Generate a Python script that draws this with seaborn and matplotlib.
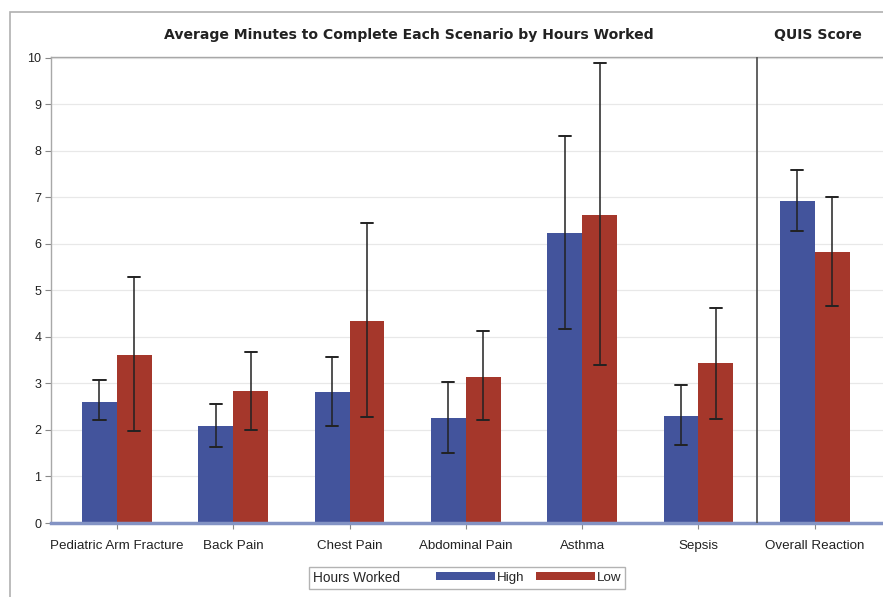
import numpy as np
import pandas as pd
import matplotlib
matplotlib.use("Agg")
import matplotlib.pyplot as plt
import seaborn as sns
from matplotlib.patches import Patch, Rectangle
from matplotlib.offsetbox import HPacker

categories = ["Pediatric Arm Fracture", "Back Pain", "Chest Pain", "Abdominal Pain",
              "Asthma", "Sepsis", "Overall Reaction"]
groups = ["High", "Low"]
high_mean = [2.61, 2.08, 2.82, 2.26, 6.23, 2.31, 6.93]
high_lo = [2.22, 1.63, 2.08, 1.50, 4.17, 1.68, 6.28]
high_hi = [3.07, 2.55, 3.57, 3.03, 8.33, 2.97, 7.59]
low_mean = [3.62, 2.83, 4.35, 3.15, 6.63, 3.43, 5.82]
low_lo = [1.97, 2.01, 2.27, 2.21, 3.39, 2.24, 4.67]
low_hi = [5.30, 3.68, 6.45, 4.12, 9.90, 4.63, 7.00]
title_left = "Average Minutes to Complete Each Scenario by Hours Worked"
title_right = "QUIS Score"
legend_title = "Hours Worked"

colors = {"High": "#43549C", "Low": "#A5372B"}

df = pd.DataFrame({
    "Scenario": categories * 2,
    "Hours": ["High"] * len(categories) + ["Low"] * len(categories),
    "Minutes": high_mean + low_mean,
})

sns.set_style("white")
plt.rcParams["font.family"] = ["Liberation Sans", "DejaVu Sans"]

fig = plt.figure(figsize=(8.83, 5.97), dpi=100)
ax = fig.add_axes([51 / 883, 1 - 523 / 597, 832 / 883, (523 - 57) / 597])

sns.barplot(data=df, x="Scenario", y="Minutes", hue="Hours", order=categories,
            hue_order=groups, palette=colors, width=0.6, errorbar=None,
            saturation=1, linewidth=0, ax=ax, legend=False, zorder=2)

los = {"High": high_lo, "Low": low_lo}
his = {"High": high_hi, "Low": low_hi}
for cont, g in zip(ax.containers, groups):
    for i, bar in enumerate(cont):
        xc = bar.get_x() + bar.get_width() / 2
        lo, hi = los[g][i], his[g][i]
        ax.plot([xc, xc], [lo, hi], color="#222222", lw=1.1, zorder=4)
        for yv in (lo, hi):
            ax.plot([xc - 0.052, xc + 0.052], [yv, yv], color="#222222", lw=1.4, zorder=4)

ax.set_xlim(-0.567, 6.587)
ax.set_ylim(0, 10.02)
ax.set_yticks(range(0, 11))
ax.set_xlabel("")
ax.set_ylabel("")
ax.grid(axis="y", color="#E8E8E8", lw=0.9, zorder=0)
ax.set_axisbelow(True)
for s in ["top", "left"]:
    ax.spines[s].set_color("#A8A8A8")
    ax.spines[s].set_linewidth(1.0)
ax.spines["right"].set_visible(False)
ax.spines["bottom"].set_color("#8393C4")
ax.spines["bottom"].set_linewidth(2.5)
ax.tick_params(axis="y", length=4, width=0.8, color="#888888", labelsize=9, pad=3,
               labelcolor="#222222", left=True)
ax.tick_params(axis="x", length=4, width=0.8, color="#888888", labelsize=9.6, pad=14.5,
               labelcolor="#222222", bottom=True)
for lab in ax.get_xticklabels():
    lab.set_verticalalignment("baseline")
ax.axvline(5.5, color="#555555", lw=1.3, zorder=3)

fig.text(409 / 883, 1 - 35 / 597, title_left, ha="center", va="center",
         fontsize=10.1, fontweight="bold", color="#222222", family="DejaVu Sans")
fig.text(818 / 883, 1 - 35 / 597, title_right, ha="center", va="center",
         fontsize=10.1, fontweight="bold", color="#222222", family="DejaVu Sans")

# outer frame
fig.patches.append(Rectangle((10 / 883, -0.05), 1.1, 1 - 12 / 597 + 0.05,
                             transform=fig.transFigure, fill=False,
                             edgecolor="#B0B0B0", lw=1.2))

handles = [Patch(facecolor=colors[g], edgecolor="none", label=g) for g in groups]
leg = fig.legend(handles=handles, title=legend_title, ncol=2, loc="center",
                 bbox_to_anchor=(467 / 883, 1 - 578 / 597), frameon=True,
                 fontsize=9.6, title_fontsize=9.8, handlelength=4.4, handleheight=0.55,
                 handletextpad=0.15, columnspacing=0.9, borderpad=0.3,
                 fancybox=False, edgecolor="#A0A0A0")
# put the legend title inline with the entries
leg._legend_box = HPacker(children=[leg._legend_title_box, leg._legend_handle_box],
                          pad=leg.borderpad * 9.6, sep=26, align="center")
leg._legend_box.set_figure(fig)
leg._legend_box.set_offset(leg._findoffset)
leg.get_frame().set_linewidth(1.0)

fig.savefig("out.png", dpi=100)
